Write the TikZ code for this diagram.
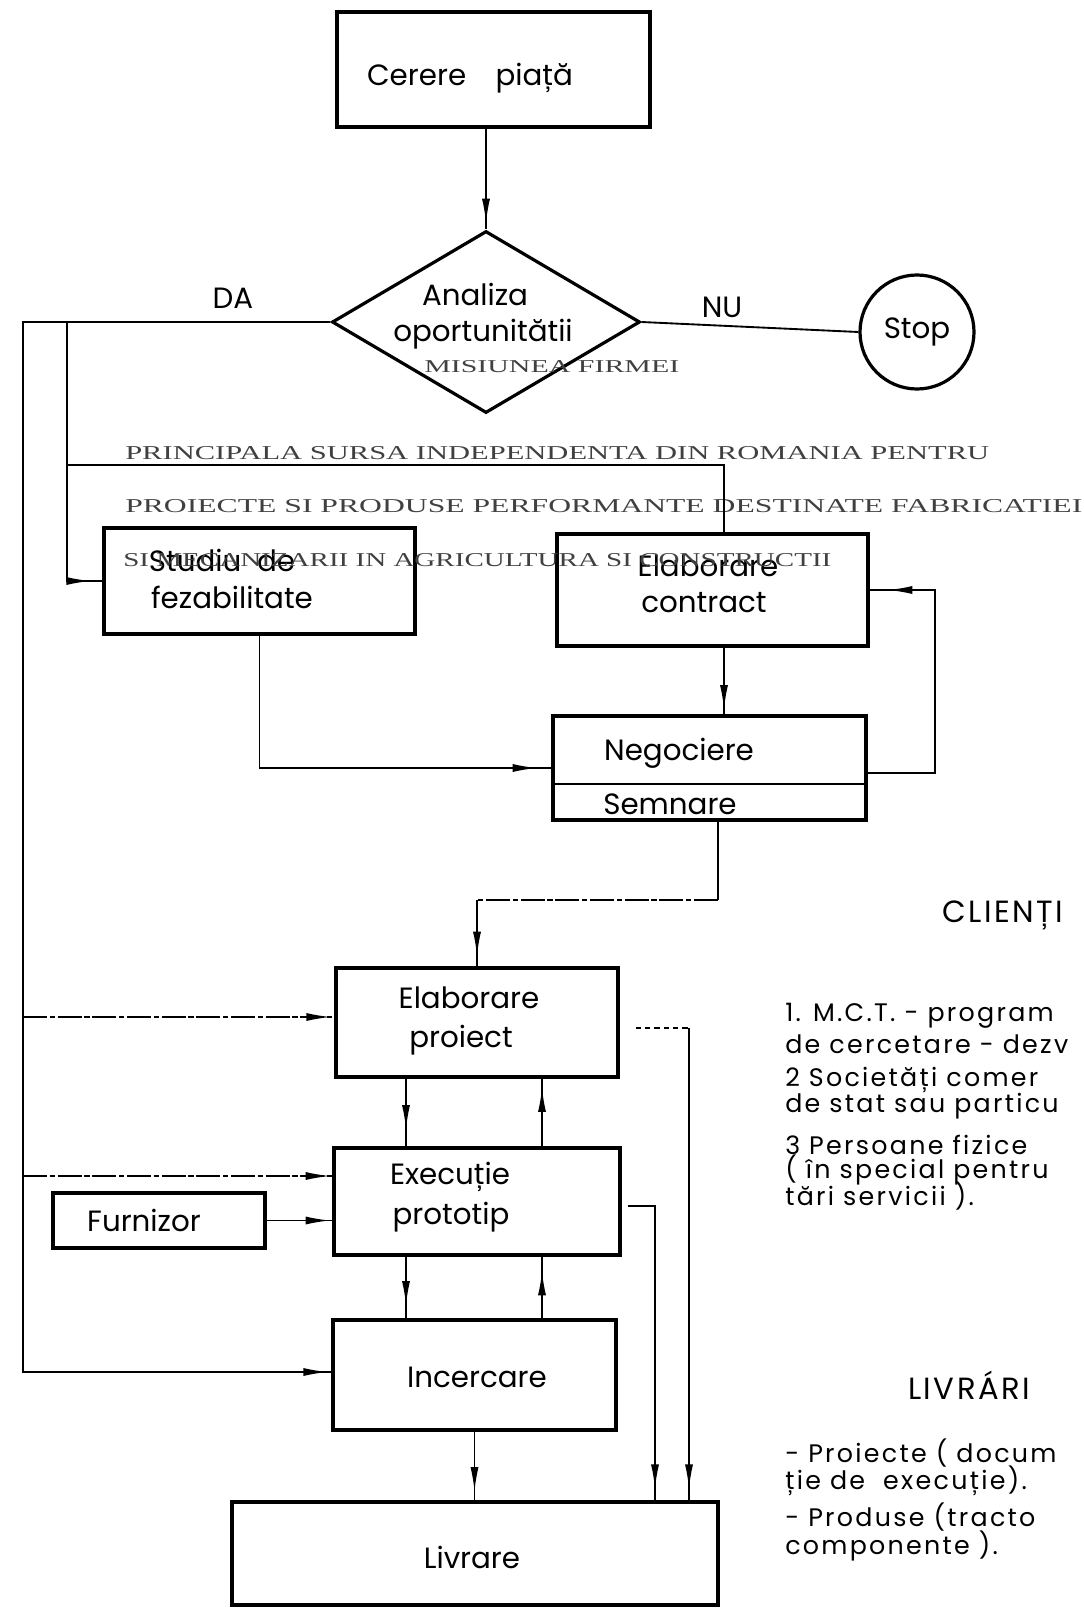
\documentclass[tikz,border=0pt]{standalone}
\usepackage{graphicx}
\usepackage{fontspec}
\setmainfont{Poppins}
\newfontfamily\serifcaps{Liberation Serif}
\usetikzlibrary{shapes.geometric, decorations.markings, arrows.meta}
\begin{document}
\begin{tikzpicture}[x=0.75pt, y=-0.75pt,
  box/.style={draw, line width=2.4pt, rectangle, inner sep=0pt},
  conn/.style={line width=1.4pt},
  brk/.style={dash pattern=on 18pt off 2pt on 4pt off 2pt},
  arr/.style={postaction={decorate}, decoration={markings, mark=at position #1 with {\arrow[line width=1pt]{Latex[length=18pt,width=6pt]}}}},
  lbl/.style={inner sep=0pt, font=\fontsize{22}{26}\selectfont},
  ovl/.style={inner sep=0pt, anchor=west, text=black!75, font=\serifcaps},
  hdr/.style={inner sep=0pt, font=\fontsize{23}{27}\selectfont\addfontfeature{LetterSpace=8}},
  side/.style={inner sep=0pt, anchor=west, font=\fontsize{19}{23}\selectfont\addfontfeature{LetterSpace=9}},
]
\useasboundingbox (0,0) rectangle (1084,1612);

% boxes
\node[box, minimum width=234.75pt, minimum height=86.25pt] (cerere) at (493.5,69.5) {};
\node[draw, diamond, line width=2.4pt, inner sep=0pt, minimum width=231pt, minimum height=136.5pt] (dia) at (486,322) {};
\node[draw, circle, line width=2.4pt, inner sep=0pt, minimum size=85.5pt, lbl] (stop) at (917,332) {Stop};
\node[box, minimum width=233.25pt, minimum height=79.5pt] (stud) at (259.5,581) {};
\node[box, minimum width=233.25pt, minimum height=84pt] (contract) at (712.5,590) {};
\node[box, minimum width=234.75pt, minimum height=78pt] (neg) at (709.5,768) {};
\node[box, minimum width=211.5pt, minimum height=81.75pt] (proj) at (477,1022.5) {};
\node[box, minimum width=214.5pt, minimum height=80.25pt] (exec) at (477,1201.5) {};
\node[box, minimum width=212.25pt, minimum height=82.5pt] (inc) at (474.5,1375) {};
\node[box, minimum width=364.5pt, minimum height=77.25pt] (liv) at (475,1553.5) {};
\node[box, minimum width=159pt, minimum height=41.25pt] (furn) at (159,1220.5) {};

% divider Negociere / Semnare
\coordinate (dv) at (0,784);
\draw[line width=1.8pt] (dv -| neg.west) -- (dv -| neg.east);

% box texts
\node[lbl] (tcer) at (470,78) {Cerere\quad piață};
\node[lbl] (tan1) at (475,294) {Analiza};
\node[lbl] (tan2) at (483,334) {oportunitătii};
\node[lbl] (tda) at (233,298) {DA};
\node[lbl] (tnu) at (722,307) {NU};
\node[lbl] (tst1) at (222,560) {Studiu\ \ de};
\node[lbl] (tst2) at (232,597) {fezabilitate};
\node[lbl] (tco1) at (708,566) {Elaborare};
\node[lbl] (tco2) at (704,603) {contract};
\node[lbl] (tne1) at (679,753) {Negociere};
\node[lbl] (tne2) at (670,804) {Semnare};
\node[lbl] (tpr1) at (469,998) {Elaborare};
\node[lbl] (tpr2) at (461,1040) {proiect};
\node[lbl] (tex1) at (450,1177) {Execuție};
\node[lbl] (tex2) at (451,1217) {prototip};
\node[lbl] (tinc) at (477,1377) {Incercare};
\node[lbl] (tliv) at (472,1557) {Livrare};
\node[lbl] (tfur) at (144,1220) {Furnizor};

% overlaid serif texts
\node[ovl] (ms) at (424,367) {\resizebox{191.25pt}{9pt}{MISIUNEA FIRMEI}};
\node[ovl] (s1) at (125,453) {\resizebox{648pt}{9.75pt}{PRINCIPALA SURSA INDEPENDENTA DIN ROMANIA PENTRU}};
\node[ovl] (s2) at (125,506) {\resizebox{717.75pt}{9.75pt}{PROIECTE SI PRODUSE PERFORMANTE DESTINATE FABRICATIEI}};
\node[ovl] (s3) at (123,560) {\resizebox{531pt}{9.75pt}{SI MECANIZARII IN AGRICULTURA SI CONSTRUCTII}};

% right-hand texts
\node[hdr] (hcl) at (1003,915) {CLIENȚI};
\node[side] (c1) at (785,1016) {1. M.C.T. - program};
\node[side] (c2) at (785,1044) {de cercetare - dezv};
\node[side] (c3) at (785,1080) {2 Societăți comer};
\node[side] (c4) at (785,1106) {de stat sau particu};
\node[side] (c5) at (785,1145) {3 Persoane fizice};
\node[side] (c6) at (785,1170) {( în special pentru};
\node[side] (c7) at (785,1196) {tări servicii ).};
\node[hdr] (hlv) at (969,1385) {LIVRÁRI};
\node[side] (l1) at (785,1453) {- Proiecte ( docum};
\node[side] (l2) at (785,1481) {ție de\ \ execuție).};
\node[side] (l3) at (785,1517) {- Produse (tracto};
\node[side] (l4) at (785,1546) {componente ).};

% connectors
\draw[conn, arr=-5pt] (cerere.south -| dia.north) -- (dia.north);
\draw[conn] (dia.east) -- (stop.west);

\coordinate (L) at (23,322);
\coordinate (Lb) at (23,1372);
\draw[conn, arr=-3pt] (dia.west) -- (L) -- (Lb) -- (Lb -| inc.west);

\coordinate (I) at (67,322);
\coordinate (Ib) at (67,581);
\draw[conn, arr=-9pt] (I) -- (Ib) -- (Ib -| stud.west);

\coordinate (Ic) at (67,465);
\coordinate (Cc) at (724,465);
\draw[conn] (Ic) -- (Cc) -- (Cc |- contract.north);

\draw[conn, arr=-4pt] (contract.south -| Cc) -- (neg.north -| Cc);

\coordinate (Lp) at (935,773);
\draw[conn, arr=-14pt] (Lp -| neg.east) -- (Lp) |- (contract.east);

\coordinate (Sb) at (259.5,768);
\draw[conn, arr=-11pt] (stud.south) -- (Sb) -- (neg.west);

\coordinate (S1) at (718,900);
\coordinate (S2) at (477,900);
\draw[conn] (neg.south -| S1) -- (S1);
\draw[conn, brk] (S1) -- (S2);
\draw[conn, arr=-8pt] (S2) -- (proj.north);

\coordinate (xa) at (406,0);
\coordinate (xb) at (542,0);
\draw[conn, arr=-13pt] (proj.south -| xa) -- (exec.north -| xa);
\draw[conn, arr=-7pt] (exec.north -| xb) -- (proj.south -| xb);
\draw[conn, arr=-10pt] (exec.south -| xa) -- (inc.north -| xa);
\draw[conn, arr=-11pt] (inc.north -| xb) -- (exec.south -| xb);

\coordinate (bp) at (23,1017);
\draw[conn, brk, arr=-3pt] (bp) -- (bp -| proj.west);
\coordinate (be) at (23,1176);
\draw[conn, brk, arr=-2pt] (be) -- (be -| exec.west);
\draw[conn, arr=-2pt] (furn.east) -- (furn.east -| exec.west);

\coordinate (pr) at (689,1028);
\draw[conn, dash pattern=on 4pt off 3pt, shorten <=12pt] (pr -| proj.east) -- (pr);
\draw[conn, arr=-9pt] (pr) -- (pr |- liv.north);
\coordinate (er) at (655,1206);
\draw[conn, arr=-9pt, shorten <=5pt] (er -| exec.east) -- (er) -- (er |- liv.north);
\draw[conn, arr=-7pt] (inc.south) -- (inc.south |- liv.north);
\end{tikzpicture}
\end{document}
